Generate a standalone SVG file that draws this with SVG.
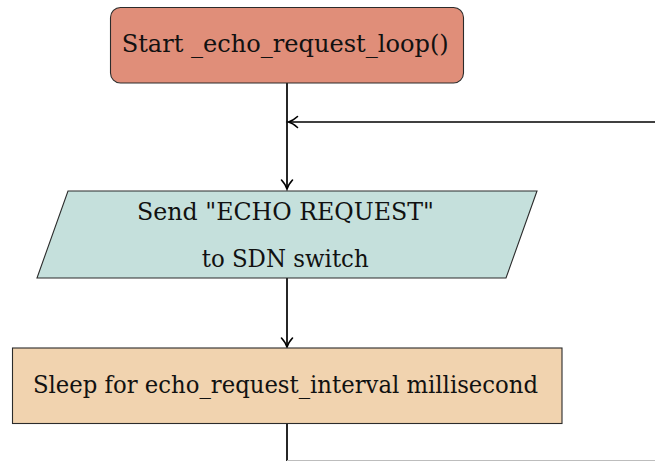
<svg xmlns="http://www.w3.org/2000/svg" width="655" height="461" viewBox="0 0 655 461">
  <defs>
    <marker id="tip" markerUnits="userSpaceOnUse" markerWidth="16" markerHeight="16" viewBox="-11 -8 13 16" refX="0" refY="0" orient="auto" overflow="visible">
      <path d="M-9,-5.5 C-5.5,-2.4 -2.2,-0.6 0,0 C-2.2,0.6 -5.5,2.4 -9,5.5" fill="none" stroke="#000" stroke-width="1.6" stroke-linecap="round"/>
    </marker>
    <style>
      .box { stroke: #2b2b2b; stroke-width: 1.1; }
      .start { fill: #e08e79; }
      .io { fill: #c5e0dc; }
      .proc { fill: #f1d3af; }
      .label { font-size: 24px; fill: #111; }
      .wire { fill: none; stroke: #000; stroke-width: 1.7; }
      .wire-tip { marker-end: url(#tip); }
      .wire-faint { fill: none; stroke: #bdbdbd; stroke-width: 1; }
    </style>
  </defs>

  <!-- connectors -->
  <g id="connectors">
    <path class="wire wire-tip" d="M287,83 V189"/>
    <path class="wire wire-tip" d="M287,278 V347"/>
    <path class="wire wire-tip" d="M655,122 H288.5"/>
    <path class="wire" d="M287,424 V461"/>
    <path class="wire-faint" d="M287,460.5 H655"/>
  </g>

  <g font-family="'DejaVu Serif', serif">
    <!-- start terminal -->
    <g id="start">
      <rect class="box start" x="110.5" y="7.5" width="353" height="75.5" rx="10" ry="10"/>
      <text class="label" x="121.7" y="52" textLength="327" lengthAdjust="spacingAndGlyphs">Start _echo_request_loop()</text>
    </g>

    <!-- send echo request (I/O) -->
    <g id="send">
      <polygon class="box io" points="68,191 537,191 506,278 37,278"/>
      <text class="label" x="137" y="220" textLength="297" lengthAdjust="spacingAndGlyphs">Send "ECHO REQUEST"</text>
      <text class="label" x="201.7" y="267" textLength="167" lengthAdjust="spacingAndGlyphs">to SDN switch</text>
    </g>

    <!-- sleep step -->
    <g id="sleep">
      <rect class="box proc" x="12.5" y="348" width="549.5" height="75.5"/>
      <text class="label" x="33" y="393" textLength="505" lengthAdjust="spacingAndGlyphs">Sleep for echo_request_interval millisecond</text>
    </g>
  </g>
</svg>
